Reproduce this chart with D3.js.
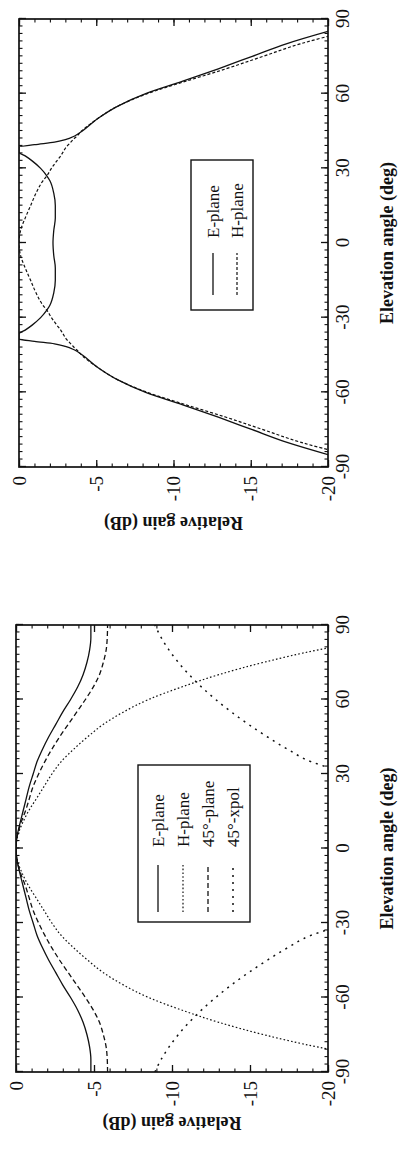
<!DOCTYPE html>
<html>
<head>
<meta charset="utf-8">
<script src="https://cdn.jsdelivr.net/npm/d3@7"></script>
<style>
  body { margin: 0; background: #fff; }
  svg { display: block; }
  text { font-family: "Liberation Serif", "Times New Roman", serif; fill: #111; }
</style>
</head>
<body>
<div id="chart"></div>
<script>
// left figure (four patterns), angles in deg, gains in dB
const anglesA = [-90,-85,-80,-75,-70,-65,-60,-55,-50,-45,-40,-35,-30,-25,-20,-15,-10,-5,0,5,10,15,20,25,30,35,40,45,50,55,60,65,70,75,80,85,90]
const ePlaneA = [-4.8,-4.8,-4.72,-4.55,-4.3,-3.95,-3.5,-3.0,-2.55,-2.1,-1.7,-1.35,-1.1,-0.85,-0.65,-0.45,-0.25,-0.07,0,-0.07,-0.25,-0.45,-0.65,-0.85,-1.1,-1.35,-1.7,-2.1,-2.55,-3.0,-3.5,-3.95,-4.3,-4.55,-4.72,-4.8,-4.8]
const hPlaneA = [-30,-24,-19.4,-15.9,-13.0,-10.6,-8.5,-6.9,-5.6,-4.6,-3.7,-2.9,-2.3,-1.8,-1.3,-0.8,-0.4,-0.1,0,-0.1,-0.4,-0.8,-1.3,-1.8,-2.3,-2.9,-3.7,-4.6,-5.6,-6.9,-8.5,-10.6,-13.0,-15.9,-19.4,-24,-30]
const plane45A = [-5.87,-5.85,-5.78,-5.6,-5.35,-4.95,-4.45,-3.9,-3.35,-2.8,-2.3,-1.85,-1.45,-1.1,-0.85,-0.6,-0.3,-0.08,0,-0.08,-0.3,-0.6,-0.85,-1.1,-1.45,-1.85,-2.3,-2.8,-3.35,-3.9,-4.45,-4.95,-5.35,-5.6,-5.78,-5.85,-5.87]
const xpol45A = [-8.9,-9.3,-9.8,-10.4,-11.1,-11.9,-12.8,-13.8,-14.9,-16.1,-17.4,-18.9,-21.5,null,null,null,null,null,null,null,null,null,null,null,-21.5,-18.9,-17.4,-16.1,-14.9,-13.8,-12.8,-11.9,-11.1,-10.4,-9.8,-9.3,-8.9]

// right figure (E / H plane)
const anglesB = [-90,-85,-80,-75,-70,-65,-60,-55,-50,-45,-43,-41.5,-40.5,-39.5,-38.5,-36.5,-35,-33,-30,-27,-25,-20,-15,-10,-5,0,5,10,15,20,25,27,30,33,35,36.5,38.5,39.5,40.5,41.5,43,45,50,55,60,65,70,75,80,85,90]
const ePlaneB = [-23,-20,-17.3,-15.1,-12.9,-10.6,-8.2,-6.4,-5.1,-4.1,-3.6,-3.0,-2.3,-1.0,0,0,-0.4,-0.85,-1.4,-1.8,-2.0,-2.25,-2.35,-2.35,-2.25,-2.2,-2.25,-2.35,-2.35,-2.25,-2.0,-1.8,-1.4,-0.85,-0.4,0,0,-1.0,-2.3,-3.0,-3.6,-4.1,-5.1,-6.4,-8.2,-10.6,-12.9,-15.1,-17.3,-20,-23]
const hPlaneB = [-25,-21.3,-18.2,-15.8,-13.4,-10.8,-8.3,-6.4,-5.1,-4.05,-3.75,-3.5,-3.35,-3.2,-3.05,-2.85,-2.7,-2.45,-2.1,-1.8,-1.55,-1.1,-0.75,-0.4,-0.1,0,-0.1,-0.4,-0.75,-1.1,-1.55,-1.8,-2.1,-2.45,-2.7,-2.85,-3.05,-3.2,-3.35,-3.5,-3.75,-4.05,-5.1,-6.4,-8.3,-10.8,-13.4,-15.8,-18.2,-21.3,-25]

const angleTicks = [-90, -60, -30, 0, 30, 60, 90]
const gainTicks = [0, -5, -10, -15, -20]

// page is the original landscape figure turned a quarter turn
const pageW = 402, pageH = 1160

const svg = d3.select("#chart").append("svg")
  .attr("width", pageW)
  .attr("height", pageH)

const fig = svg.append("g")
  .attr("transform", `translate(0,${pageH}) rotate(-90)`)

function drawPanel(id, box, series, legend) {
  const w = box.x1 - box.x0, h = box.y1 - box.y0
  const g = fig.append("g").attr("transform", `translate(${box.x0},${box.y0})`)

  const x = d3.scaleLinear().domain([-90, 90]).range([0, w])
  const y = d3.scaleLinear().domain([-20, 0]).range([h, 0])

  g.append("clipPath").attr("id", id)
    .append("rect").attr("width", w).attr("height", h)

  // minor ticks on all sides
  const minorX = d3.range(-90, 91, 3)
  const minorY = d3.range(-20, 1, 1)
  const axes = [
    [d3.axisBottom(x), `translate(0,${h})`, minorX, angleTicks],
    [d3.axisTop(x), null, minorX, angleTicks],
    [d3.axisLeft(y), null, minorY, gainTicks],
    [d3.axisRight(y), `translate(${w},0)`, minorY, gainTicks]
  ]
  axes.forEach(([ax, tr, minor, major], i) => {
    const m = g.append("g").attr("transform", tr)
      .call(ax.tickValues(minor).tickSize(-3.5).tickSizeOuter(0).tickFormat(""))
    m.select(".domain").remove()
    m.selectAll("line").attr("stroke", "#111").attr("stroke-width", 1.1)

    const a = i == 0 ? d3.axisBottom(x) : i == 1 ? d3.axisTop(x) : i == 2 ? d3.axisLeft(y) : d3.axisRight(y)
    const labelled = i == 0 || i == 2
    const M = g.append("g").attr("transform", tr)
      .call(a.tickValues(major).tickSize(-7).tickSizeOuter(0)
        .tickPadding(labelled ? (i == 0 ? 8 : 9) : 0)
        .tickFormat(labelled ? d => String(d) : ""))
    M.select(".domain").remove()
    M.selectAll("line").attr("stroke", "#111").attr("stroke-width", 1.3)
    M.selectAll("text").attr("font-size", 19).attr("fill", "#111")
      .style("font-family", '"Liberation Serif", serif')
  })

  const line = d3.line()
    .defined(d => d[1] != null)
    .x(d => x(d[0]))
    .y(d => y(d[1]))
    .curve(d3.curveMonotoneX)

  const curves = g.append("g").attr("clip-path", `url(#${id})`)
  series.forEach(s => {
    curves.append("path")
      .datum(s.angles.map((a, k) => [a, s.values[k]]))
      .attr("fill", "none")
      .attr("stroke", "#111")
      .attr("stroke-width", s.width)
      .attr("stroke-dasharray", s.dash)
      .attr("d", line)
  })

  // frame
  g.append("rect")
    .attr("width", w).attr("height", h)
    .attr("fill", "none").attr("stroke", "#111").attr("stroke-width", 1.7)

  // axis titles
  g.append("text")
    .attr("x", w / 2).attr("y", h + 65)
    .attr("text-anchor", "middle")
    .attr("font-size", 18).attr("font-weight", "bold")
    .text("Elevation angle (deg)")
  g.append("text")
    .attr("transform", `translate(${-box.titleGap},${h / 2}) rotate(-90)`)
    .attr("text-anchor", "middle")
    .attr("font-size", 18).attr("font-weight", "bold")
    .text("Relative gain (dB)")

  // legend
  const lg = g.append("g").attr("transform", `translate(${legend.x - box.x0},${legend.y - box.y0})`)
  lg.append("rect")
    .attr("width", legend.w).attr("height", legend.h)
    .attr("fill", "#fff").attr("stroke", "#111").attr("stroke-width", 1.4)
  series.forEach((s, k) => {
    const ry = legend.row0 + k * legend.rowStep
    lg.append("line")
      .attr("x1", legend.line0).attr("x2", legend.line1)
      .attr("y1", ry).attr("y2", ry)
      .attr("stroke", "#111").attr("stroke-width", s.width)
      .attr("stroke-dasharray", s.dash)
    lg.append("text")
      .attr("x", legend.text0).attr("y", ry)
      .attr("dy", "0.35em")
      .attr("font-size", 17)
      .text(s.name)
  })
}

// left figure -> bottom of page
drawPanel("clipA",
  { x0: 88, x1: 535, y0: 16, y1: 328, titleGap: 45 },
  [
    { name: "E-plane", angles: anglesA, values: ePlaneA, dash: null, width: 1.3 },
    { name: "H-plane", angles: anglesA, values: hPlaneA, dash: "1.6,2.2", width: 1.2 },
    { name: "45\u00b0-plane", angles: anglesA, values: plane45A, dash: "5,3", width: 1.3 },
    { name: "45\u00b0-xpol", angles: anglesA, values: xpol45A, dash: "2,5", width: 1.5 }
  ],
  { x: 238, y: 138, w: 157, h: 112, row0: 20, rowStep: 25, line0: 10, line1: 57, text0: 75 }
)

// right figure -> top of page
drawPanel("clipB",
  { x0: 693, x1: 1141, y0: 19, y1: 328, titleGap: 50 },
  [
    { name: "E-plane", angles: anglesB, values: ePlaneB, dash: null, width: 1.3 },
    { name: "H-plane", angles: anglesB, values: hPlaneB, dash: "3,2", width: 1.2 }
  ],
  { x: 850, y: 191, w: 150, h: 62, row0: 22, rowStep: 24, line0: 15, line1: 57, text0: 72 }
)
</script>
</body>
</html>
